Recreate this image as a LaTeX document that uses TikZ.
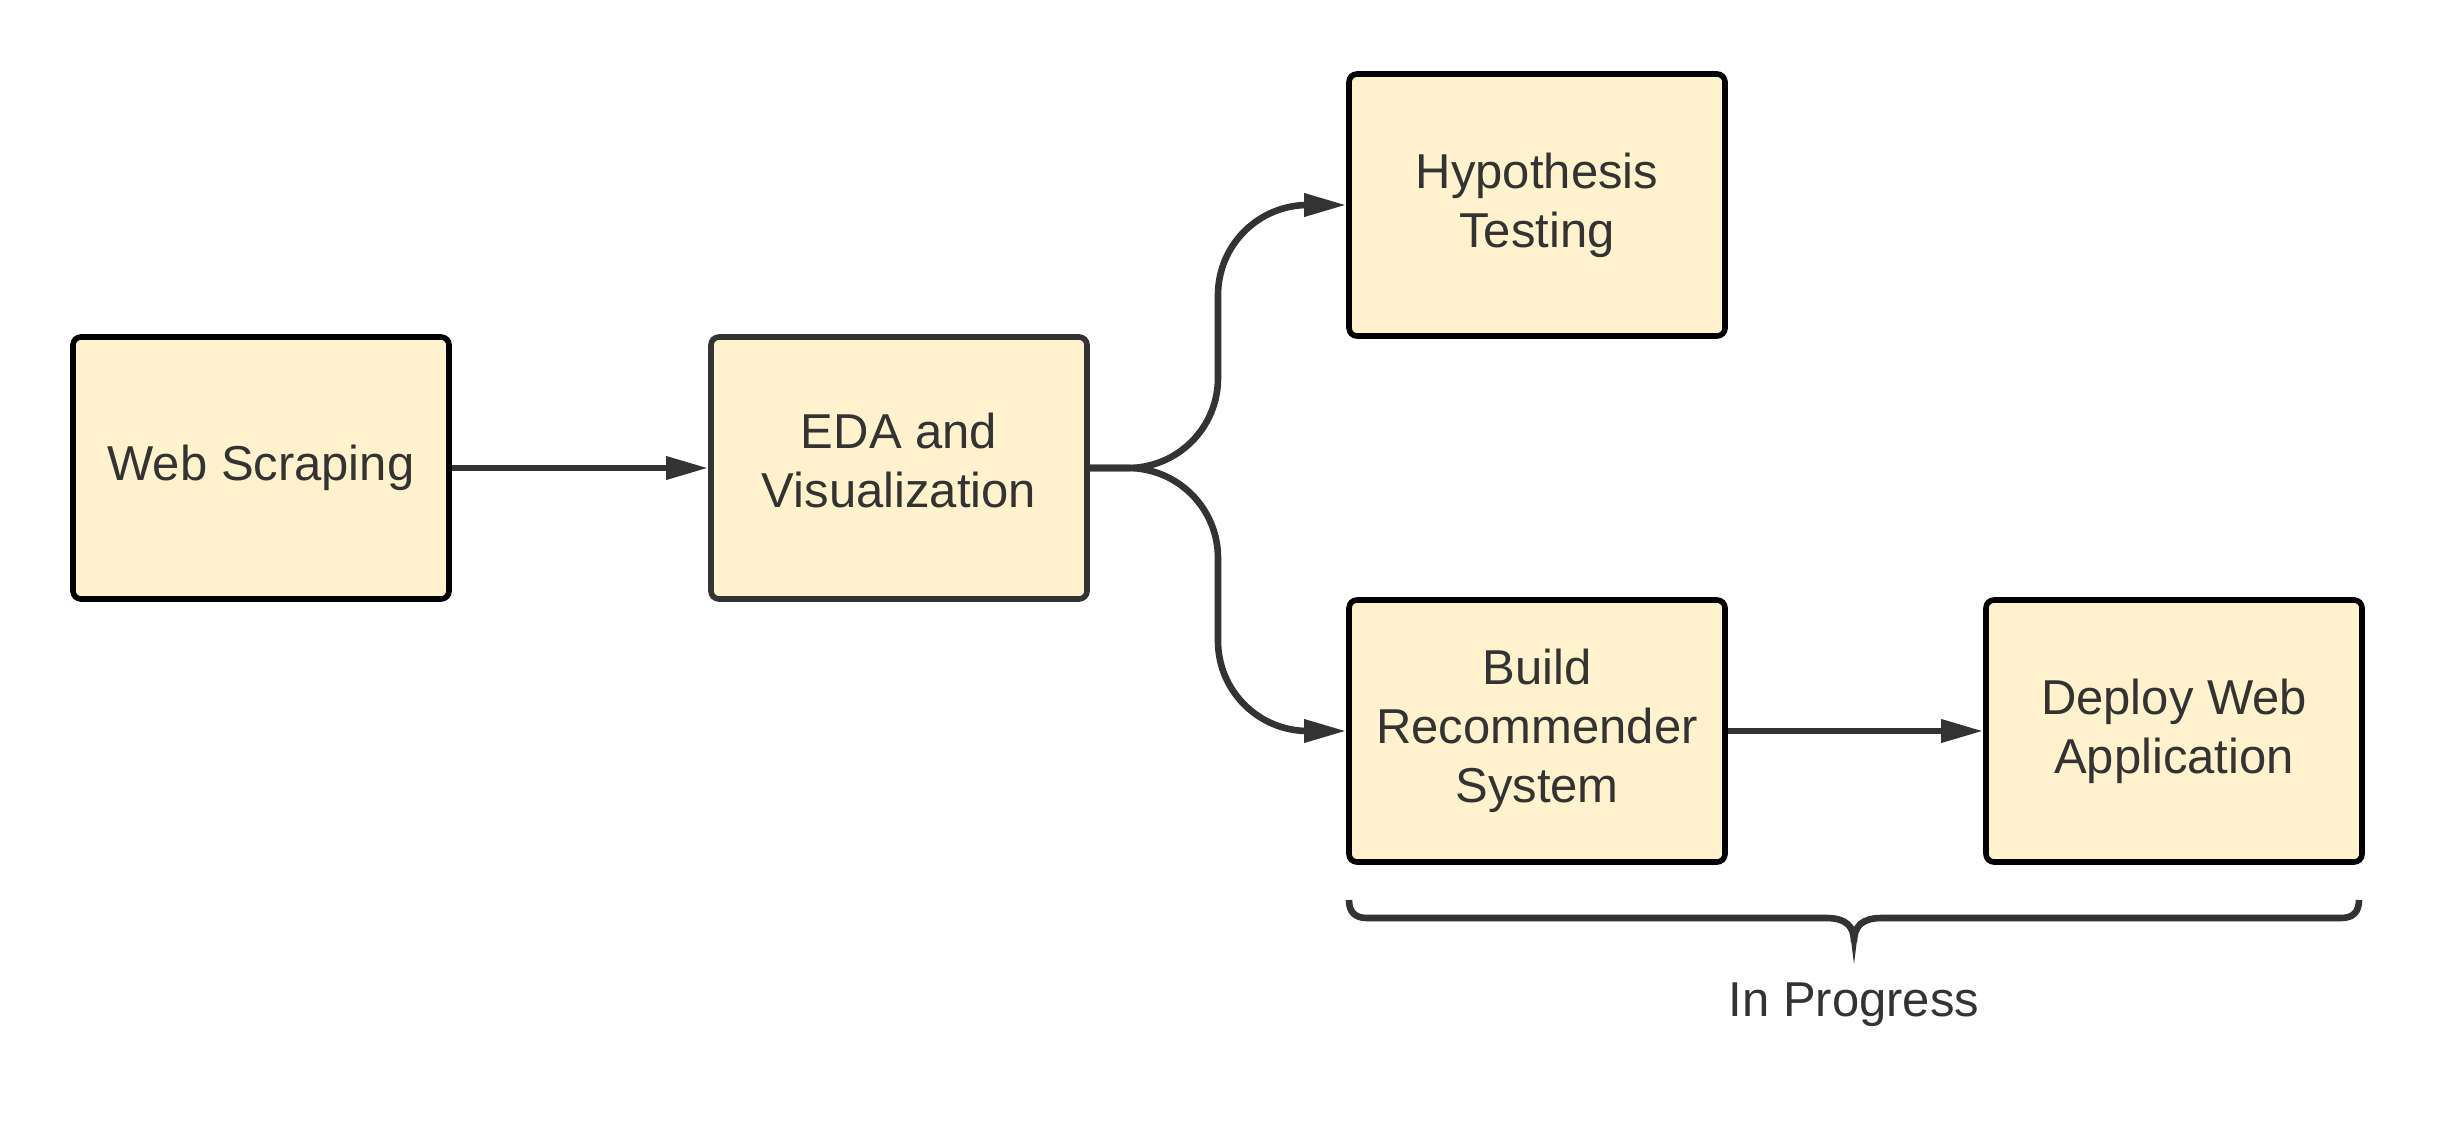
\documentclass[tikz,border=0pt]{standalone}
\usepackage{fontspec}
\setmainfont{Liberation Sans}
\usetikzlibrary{arrows.meta}
\usetikzlibrary{positioning}
\definecolor{boxfill}{HTML}{FFF2CC}
\definecolor{ink}{HTML}{333333}
\tikzset{basic box/.style={draw,rounded corners=4pt,fill=boxfill}}
\tikzset{box/.style={basic box,
                     line width=2.8pt,
                     minimum width=188pt,
                     minimum height=131pt,
                     align=center,
                     text=ink,
                     font=\fontsize{24.5}{29.5}\selectfont}}
\tikzset{link/.style={draw,
                      ink,
                      line width=3.3pt,
                      rounded corners=45pt,
                      -{Triangle[length=21pt,width=11pt]}}}

\begin{document}
\begin{tikzpicture}[x=0.5pt,y=-0.5pt]
      \useasboundingbox (0,0) rectangle (2454,1125);

      % boxes
      \node [box,draw=black] (web) at (261,468) {Web Scraping};
      \node [box,draw=ink] (eda) at (899,468) {EDA and\\Visualization\\[-31pt]\strut};
      \node [box,draw=black] (hyp) at (1537,205) {Hypothesis\\Testing};
      \node [box,draw=black] (rec) at (1537,731) {Build\\Recommender\\System};
      \node [box,draw=black] (app) at (2174,731) {Deploy Web\\Application};

      % edges
      \coordinate (fork) at (1218,468);
      \path [link] (web.east) -- (eda.west);
      \path [link] (eda.east) -- (fork) |- (hyp.west);
      \path [link] (eda.east) -- (fork) |- (rec.west);
      \path [link] (rec.east) -- (app.west);

      % brace
      \coordinate (tip) at (1854,964);
      \draw [ink,line width=3.3pt] (1349,900) .. controls (1349,912) and (1355,918) .. (1367,918)
      -- (1826,918) .. controls (1846,918) and (1854,926) .. (1854,942)
      .. controls (1854,926) and (1862,918) .. (1882,918)
      -- (2341,918) .. controls (2353,918) and (2359,912) .. (2359,900);
      \fill [ink] (1850.5,936) -- (tip) -- (1857.5,936) -- cycle;
      \node [text=ink,font=\fontsize{24.5}{29.5}\selectfont] (prog) at (1854,1005) {In Progress};

\end{tikzpicture}
\end{document}
